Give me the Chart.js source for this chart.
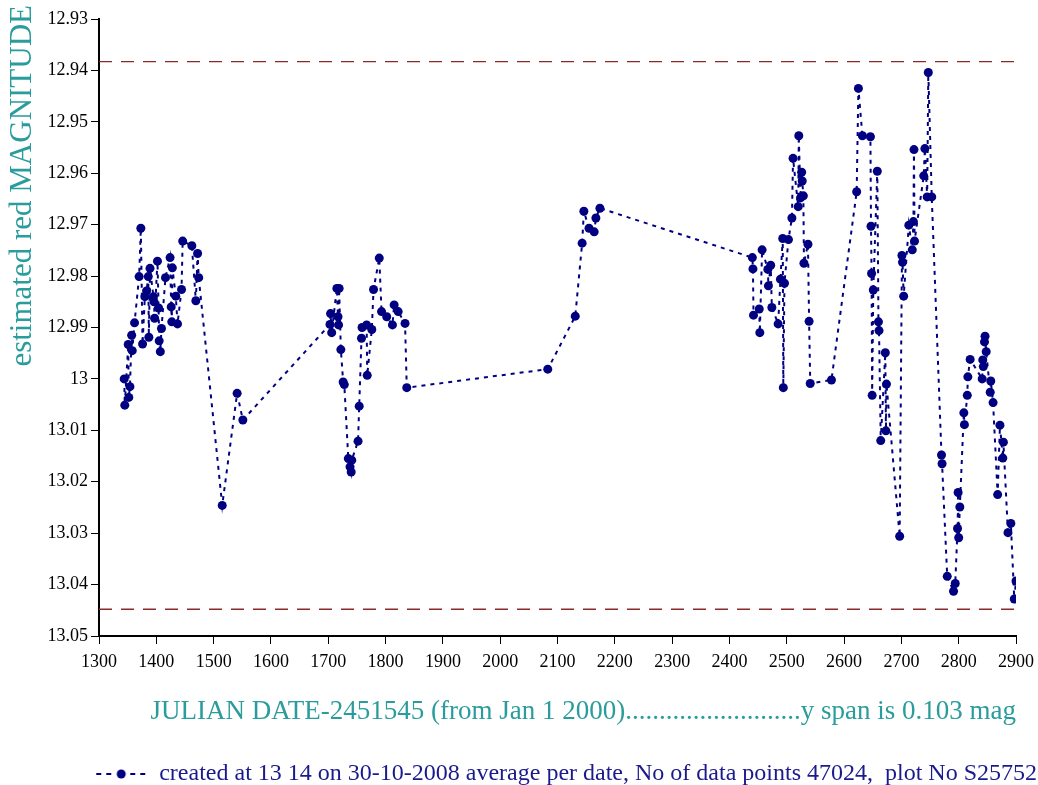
<!DOCTYPE html>
<html>
<head>
<meta charset="utf-8">
<script src="https://cdn.jsdelivr.net/npm/chart.js@4/dist/chart.umd.min.js"></script>
<style>
  html, body { margin: 0; padding: 0; background: #fff; }
  #wrap { width: 1038px; height: 785px; }
</style>
</head>
<body>
<div id="wrap"><canvas id="lightCurve"></canvas></div>
<script>
// julian date - 2451545, averaged per date
var jd = [
  1344, 1345, 1351, 1352, 1354, 1357, 1358, 1362, 1370, 1373, 1376, 1380, 1383, 1386, 1387, 1389,
  1395, 1396, 1397, 1402, 1404, 1405, 1407, 1409, 1416, 1424, 1426, 1427, 1428, 1434, 1437, 1444,
  1446, 1462, 1469, 1472, 1474, 1515, 1541, 1551,
  1703, 1704, 1706, 1715, 1717, 1718, 1719, 1722, 1726, 1728, 1735, 1738, 1740, 1741, 1752, 1754,
  1758, 1759, 1767, 1768, 1776, 1779, 1789, 1793, 1802, 1812, 1815, 1822, 1834, 1837,
  2083, 2131, 2143, 2146, 2155, 2164, 2167, 2174,
  2440, 2441, 2442, 2452, 2453, 2457, 2467, 2468, 2472, 2474, 2485, 2489, 2493, 2494, 2496, 2503,
  2509, 2511, 2520, 2521, 2524, 2526, 2527, 2529, 2530, 2537, 2539, 2541, 2578,
  2622, 2625, 2632, 2646, 2647, 2648, 2649, 2651, 2658, 2660, 2661, 2664, 2672, 2673, 2674,
  2697, 2701, 2702, 2704, 2713, 2719, 2721, 2722, 2723, 2739, 2741, 2745, 2747, 2753,
  2770, 2771, 2780, 2791, 2794, 2798, 2799, 2800, 2802, 2809, 2810, 2815, 2816, 2820,
  2841, 2842, 2843, 2845, 2846, 2848, 2855, 2856, 2860, 2868, 2872, 2877, 2878, 2886, 2891, 2897, 2900
];
var mag = [
  13.0000, 13.0051, 12.9933, 13.0036, 13.0015, 12.9915, 12.9945, 12.9891, 12.9801, 12.9707, 12.9932, 12.9840, 12.9829, 12.9801, 12.9919, 12.9785,
  12.9840, 12.9850, 12.9882, 12.9771, 12.9862, 12.9926, 12.9947, 12.9902, 12.9803, 12.9764, 12.9860, 12.9889, 12.9784, 12.9839, 12.9893, 12.9826,
  12.9732, 12.9741, 12.9848, 12.9756, 12.9803, 13.0246, 13.0028, 13.0080,
  12.9894, 12.9873, 12.9910, 12.9824, 12.9879, 12.9895, 12.9824, 12.9943, 13.0006, 13.0011, 13.0155, 13.0171, 13.0181, 13.0158, 13.0121, 13.0053,
  12.9921, 12.9900, 12.9895, 12.9993, 12.9904, 12.9826, 12.9765, 12.9869, 12.9879, 12.9895, 12.9856, 12.9869, 12.9892, 13.0017,
  12.9981, 12.9878, 12.9736, 12.9674, 12.9707, 12.9714, 12.9687, 12.9668,
  12.9764, 12.9786, 12.9876, 12.9864, 12.9910, 12.9749, 12.9787, 12.9819, 12.9779, 12.9861, 12.9893, 12.9806, 12.9727, 13.0017, 12.9814, 12.9729,
  12.9687, 12.9571, 12.9665, 12.9527, 12.9648, 12.9598, 12.9615, 12.9644, 12.9775, 12.9738, 12.9888, 13.0009, 13.0002,
  12.9636, 12.9435, 12.9527, 12.9529, 12.9703, 12.9795, 13.0032, 12.9827, 12.9596, 12.9889, 12.9906, 13.0120, 12.9949, 13.0101, 13.0010,
  13.0306, 12.9760, 12.9773, 12.9839, 12.9701, 12.9749, 12.9694, 12.9554, 12.9732, 12.9605, 12.9552, 12.9646, 12.9404, 12.9646,
  13.0148, 13.0165, 13.0384, 13.0413, 13.0398, 13.0291, 13.0221, 13.0309, 13.0249, 13.0066, 13.0089, 13.0032, 12.9996, 12.9962,
  13.0000, 12.9963, 12.9976, 12.9928, 12.9917, 12.9947, 13.0026, 13.0004, 13.0046, 13.0225, 13.0090, 13.0154, 13.0123, 13.0299, 13.0281, 13.0428, 13.0393
];
// dashed limits (brightest - 0.002, faintest + 0.002)
var limitMags = [12.9383, 13.0448];
var xRange = [1300, 2900];
var yRange = [12.93, 13.05];

var navy = '#000080';
var teal = '#2b9c9c';

var pts = jd.map(function (d, i) { return {x: d, y: mag[i]}; });

var limitSets = limitMags.map(function (m, i) {
  return {
    label: 'limit' + i,
    data: [{x: xRange[0], y: m}, {x: xRange[1], y: m}],
    showLine: true,
    borderColor: '#8b2a2a',
    borderWidth: 1.3,
    borderDash: [13, 9],
    pointRadius: 0,
    order: 2
  };
});

// legend marker: - -o- -
var mk = document.createElement('canvas');
mk.width = 52; mk.height = 14;
var mc = mk.getContext('2d');
mc.fillStyle = navy;
[1, 11, 35, 45].forEach(function (x) { mc.fillRect(x, 6, 5, 2); });
mc.beginPath(); mc.arc(26, 7, 4.5, 0, Math.PI * 2); mc.fill();

// y axis title sits up at the top, drawn by hand
var yTitle = {
  id: 'yTitle',
  afterDraw: function (chart) {
    var ctx = chart.ctx;
    ctx.save();
    ctx.translate(23, 5);
    ctx.rotate(-Math.PI / 2);
    ctx.font = '31px "Liberation Serif"';
    ctx.fillStyle = teal;
    ctx.textAlign = 'right';
    ctx.textBaseline = 'middle';
    ctx.fillText('estimated red MAGNITUDE', 0, 0);
    ctx.restore();
  }
};

var ctx = document.getElementById('lightCurve').getContext('2d');
var chart = new Chart(ctx, {
  type: 'scatter',
  data: {
    datasets: [{
      label: 'created at 13 14 on 30-10-2008 average per date, No of data points 47024,  plot No S25752',
      data: pts,
      showLine: true,
      borderColor: navy,
      borderWidth: 2,
      borderDash: [4, 5],
      backgroundColor: navy,
      pointRadius: 4.5,
      pointBorderWidth: 0,
      order: 1
    }].concat(limitSets)
  },
  options: {
    responsive: true,
    maintainAspectRatio: false,
    animation: false,
    layout: { padding: { top: 19, right: 0, bottom: 0, left: 0 } },
    plugins: {
      tooltip: { enabled: false },
      legend: {
        position: 'bottom',
        align: 'end',
        maxHeight: 24,
        labels: {
          filter: function (item) { return item.datasetIndex === 0; },
          usePointStyle: true,
          pointStyle: mk,
          pointStyleWidth: 52,
          boxHeight: 14,
          color: '#1a1a8c',
          font: { family: 'Liberation Serif', size: 24 },
          padding: 1
        }
      }
    },
    scales: {
      x: {
        type: 'linear',
        min: xRange[0],
        max: xRange[1],
        border: { color: '#000', width: 2 },
        grid: { drawOnChartArea: false, color: '#000', tickLength: 8, tickWidth: 1 },
        ticks: {
          stepSize: 100,
          color: '#000',
          padding: 7,
          font: { family: 'Liberation Serif', size: 18 },
          callback: function (v) { return String(v); }
        },
        title: {
          display: true,
          align: 'end',
          text: 'JULIAN DATE-2451545 (from Jan 1 2000)..........................y span is 0.103 mag',
          color: teal,
          font: { family: 'Liberation Serif', size: 27 },
          padding: { top: 0, bottom: 33 }
        },
        afterFit: function (s) { s.height = 125; s.paddingRight = 22; }
      },
      y: {
        type: 'linear',
        reverse: true,
        min: yRange[0],
        max: yRange[1],
        border: { color: '#000', width: 2 },
        grid: { drawOnChartArea: false, color: '#000', tickLength: 8, tickWidth: 1 },
        ticks: {
          stepSize: 0.01,
          color: '#000',
          padding: 3,
          font: { family: 'Liberation Serif', size: 18 },
          callback: function (v) { return String(+v.toFixed(2)); }
        },
        afterFit: function (s) { s.width = 99; }
      }
    }
  },
  plugins: [yTitle]
});
</script>
</body>
</html>
